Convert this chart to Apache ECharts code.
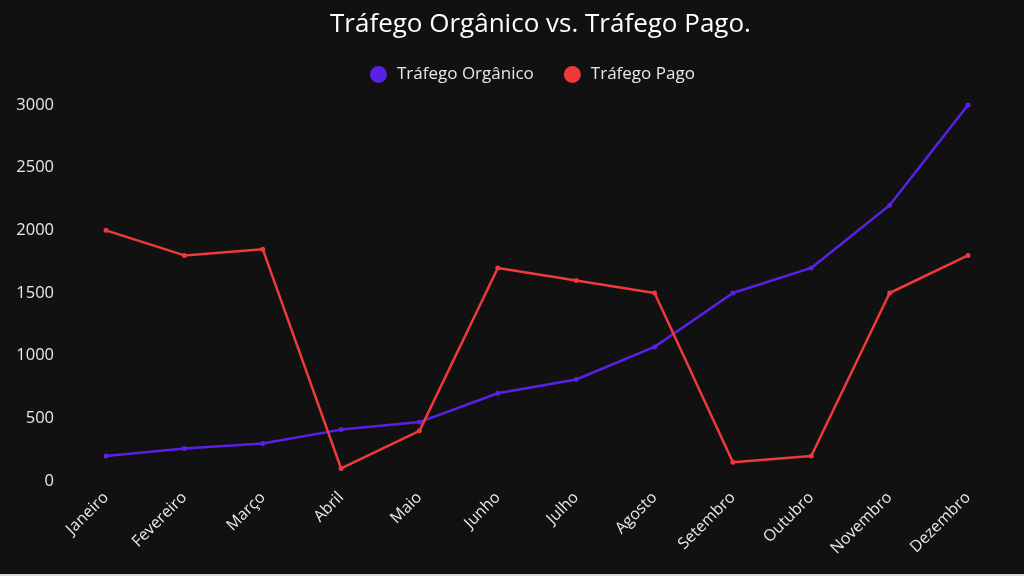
<!DOCTYPE html>
<html>
<head>
<meta charset="utf-8">
<script src="https://cdn.jsdelivr.net/npm/echarts@6/dist/echarts.min.js"></script>
<style>
    html, body { margin: 0; padding: 0; background: #d9d9d9; }
    #chart { width: 1024px; height: 574px; background: #111111; }
</style>
</head>
<body>
<div id="chart"></div>
<script>
// dados do gráfico
var meses = ['Janeiro', 'Fevereiro', 'Março', 'Abril', 'Maio', 'Junho',
    'Julho', 'Agosto', 'Setembro', 'Outubro', 'Novembro', 'Dezembro'];
var organico = [200, 260, 300, 410, 470, 700, 810, 1070, 1500, 1700, 2200, 3000];
var pago = [2000, 1800, 1850, 100, 400, 1700, 1600, 1500, 150, 200, 1500, 1800];

var chart = echarts.init(document.getElementById('chart'));

var textColor = '#e8e8e8';
var font = '"Open Sans", sans-serif';

chart.setOption({
    backgroundColor: '#111111',
    textStyle: { fontFamily: font },
    // título e legenda centrados na área do gráfico, não na página
    title: {
        text: 'Tráfego Orgânico vs. Tráfego Pago.',
        left: 325,
        top: 7,
        textStyle: { color: '#ffffff', fontSize: 26, fontWeight: 'normal', fontFamily: font }
    },
    legend: {
        top: 61,
        left: 365,
        icon: 'circle',
        itemWidth: 17,
        itemHeight: 17,
        itemGap: 30,
        textStyle: { color: textColor, fontSize: 17, fontFamily: font, padding: [0, 0, 0, 5] },
        data: ['Tráfego Orgânico', 'Tráfego Pago']
    },
    grid: {
        left: 106,
        right: 56,
        top: 105,
        bottom: 93,
        containLabel: false
    },
    xAxis: {
        type: 'category',
        data: meses,
        boundaryGap: false,
        axisLine: { show: false },
        axisTick: { show: false },
        axisLabel: {
            color: textColor,
            fontSize: 16,
            rotate: 45,
            margin: 14,
            fontFamily: font
        },
        splitLine: { show: false }
    },
    yAxis: {
        type: 'value',
        min: 0,
        max: 3000,
        interval: 500,
        axisLine: { show: false },
        axisTick: { show: false },
        axisLabel: {
            color: textColor,
            fontSize: 16.5,
            margin: 52,
            fontFamily: font,
            formatter: function (v) { return String(v); }
        },
        splitLine: { show: false }
    },
    series: [
        {
            name: 'Tráfego Orgânico',
            type: 'line',
            data: organico,
            color: '#5b20e8',
            symbol: 'circle',
            symbolSize: 5,
            lineStyle: { width: 2.5 },
            itemStyle: { color: '#5b20e8' }
        },
        {
            name: 'Tráfego Pago',
            type: 'line',
            data: pago,
            color: '#ee3a3a',
            symbol: 'circle',
            symbolSize: 5,
            lineStyle: { width: 2.5 },
            itemStyle: { color: '#ee3a3a' }
        }
    ]
});
</script>
</body>
</html>
